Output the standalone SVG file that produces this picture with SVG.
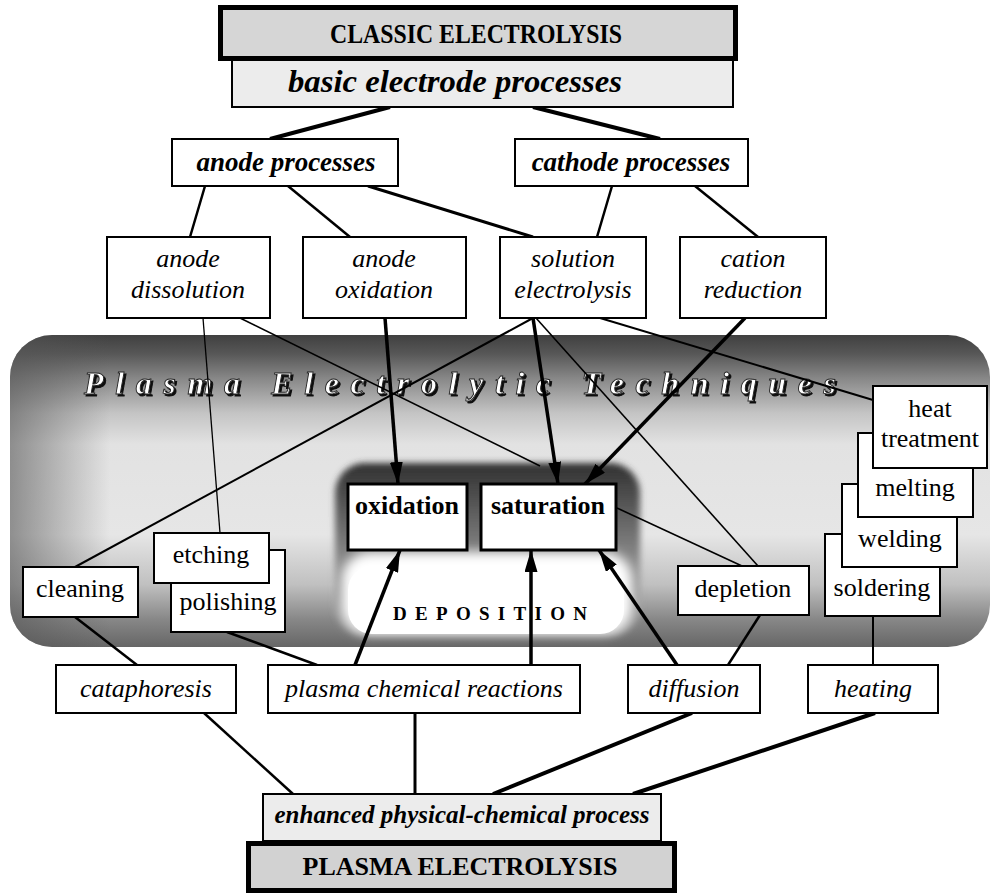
<svg xmlns="http://www.w3.org/2000/svg" width="994" height="893" viewBox="0 0 994 893">
<style>
.box{fill:#fff;stroke:#000;stroke-width:2}
.bx3{fill:#fff;stroke:#000;stroke-width:3}
.t{font-family:"Liberation Serif","Times New Roman",serif;fill:#000;text-anchor:middle}
.r{font-size:26px}
.i{font-size:26px;font-style:italic}
.bi{font-weight:bold;font-style:italic}
.b{font-weight:bold}
.ln{fill:none;stroke:#000;stroke-linecap:butt}
</style>
<defs>
<linearGradient id="band" x1="0" y1="335" x2="0" y2="647" gradientUnits="userSpaceOnUse">
<stop offset="0" stop-color="#404040"/>
<stop offset="0.06" stop-color="#575757"/>
<stop offset="0.14" stop-color="#888"/>
<stop offset="0.25" stop-color="#c4c4c4"/>
<stop offset="0.35" stop-color="#e2e2e2"/>
<stop offset="0.64" stop-color="#e6e6e6"/>
<stop offset="0.8" stop-color="#c0c0c0"/>
<stop offset="0.91" stop-color="#888"/>
<stop offset="1" stop-color="#666"/>
</linearGradient>
<linearGradient id="bandL" x1="10" y1="0" x2="110" y2="0" gradientUnits="userSpaceOnUse">
<stop offset="0" stop-color="#555" stop-opacity="0.6"/>
<stop offset="1" stop-color="#555" stop-opacity="0"/>
</linearGradient>
<linearGradient id="dep" x1="0" y1="463" x2="0" y2="635" gradientUnits="userSpaceOnUse">
<stop offset="0" stop-color="#303030"/>
<stop offset="0.2" stop-color="#505050"/>
<stop offset="0.6" stop-color="#909090"/>
<stop offset="1" stop-color="#a0a0a0"/>
</linearGradient>
<filter id="bl3" x="-10%" y="-10%" width="120%" height="120%"><feGaussianBlur stdDeviation="3"/></filter>
<filter id="bl6" x="-20%" y="-20%" width="140%" height="140%"><feGaussianBlur stdDeviation="6"/></filter>
<filter id="shadow" x="-5%" y="-30%" width="110%" height="160%">
<feOffset in="SourceAlpha" dx="2" dy="2" result="off"/>
<feFlood flood-color="#111"/>
<feComposite in2="off" operator="in" result="sh"/>
<feMerge><feMergeNode in="sh"/><feMergeNode in="SourceGraphic"/></feMerge>
</filter>
<marker id="arr" viewBox="0 0 22 13" refX="22" refY="6.5" markerWidth="22" markerHeight="13" orient="auto" markerUnits="userSpaceOnUse">
<path d="M0,0 L22,6.5 L0,13 z" fill="#000"/>
</marker>
</defs>

<g id="background">
<rect x="10" y="335" width="980" height="312" rx="42" fill="url(#band)"/>
<rect x="10" y="335" width="980" height="312" rx="42" fill="url(#bandL)"/>
<text x="84" y="394" class="t bi" style="font-size:32px;text-anchor:start;fill:#fff;stroke:#222;stroke-width:0.9" textLength="752" lengthAdjust="spacing" filter="url(#shadow)">Plasma Electrolytic Techniques</text>
<g id="deposition-area">
<rect x="335" y="463" width="305" height="172" rx="30" fill="url(#dep)" filter="url(#bl3)"/>
<rect x="342" y="552" width="290" height="82" rx="28" fill="#fff" filter="url(#bl6)"/>
<rect x="348" y="566" width="276" height="68" rx="24" fill="#fff"/>
<text x="490" y="620" class="t b" style="font-size:19px" textLength="194" lengthAdjust="spacing">DEPOSITION</text>
</g>
</g>

<g id="connectors">
<path class="ln" stroke-width="4" d="M390,107 L270,139"/>
<path class="ln" stroke-width="4" d="M533,107 L660,139"/>
<path class="ln" stroke-width="2.5" d="M205,186 L190,237"/>
<path class="ln" stroke-width="2.5" d="M288,186 L350,237"/>
<path class="ln" stroke-width="3" d="M368,186 L533,237"/>
<path class="ln" stroke-width="2.5" d="M612,186 L597,237"/>
<path class="ln" stroke-width="2.5" d="M695,186 L758,237"/>
<path class="ln" stroke-width="1.3" d="M203,318 L220,533"/>
<path class="ln" stroke-width="1.6" d="M240,318 L540,466"/>
<path class="ln" stroke-width="3.5" d="M385,318 L398,484" marker-end="url(#arr)"/>
<path class="ln" stroke-width="2" d="M533,318 L75,567"/>
<path class="ln" stroke-width="3.5" d="M533,318 L558,484" marker-end="url(#arr)"/>
<path class="ln" stroke-width="1.6" d="M536,318 L758,566"/>
<path class="ln" stroke-width="2" d="M600,318 L873,400"/>
<path class="ln" stroke-width="3.5" d="M745,318 L585,484" marker-end="url(#arr)"/>
<path class="ln" stroke-width="1.6" d="M617,508 L742,566"/>
<path class="ln" stroke-width="2.5" d="M75,617 L137,665"/>
<path class="ln" stroke-width="2.5" d="M227,632 L317,665"/>
<path class="ln" stroke-width="3.5" d="M355,665 L400,550" marker-end="url(#arr)"/>
<path class="ln" stroke-width="3.5" d="M531,665 L531,550" marker-end="url(#arr)"/>
<path class="ln" stroke-width="3.5" d="M677,665 L599,550" marker-end="url(#arr)"/>
<path class="ln" stroke-width="2.5" d="M728,665 L760,615"/>
<path class="ln" stroke-width="2" d="M873,665 L873,616"/>
<path class="ln" stroke-width="2.5" d="M204,713 L293,794"/>
<path class="ln" stroke-width="3" d="M415,713 L415,794"/>
<path class="ln" stroke-width="4" d="M692,713 L493,794"/>
<path class="ln" stroke-width="4" d="M875,713 L633,794"/>
</g>

<g id="classic-electrolysis">
<rect x="220.5" y="7.5" width="515" height="51" fill="#d6d6d6" stroke="#000" stroke-width="5"/>
<text x="476" y="43" class="t b" style="font-size:27px" textLength="292" lengthAdjust="spacingAndGlyphs">CLASSIC ELECTROLYSIS</text>
</g>
<g id="basic-electrode-processes">
<rect x="232" y="60" width="501" height="47" fill="#ececec" stroke="#000" stroke-width="2"/>
<text x="455" y="92" class="t bi" style="font-size:32px" textLength="334" lengthAdjust="spacingAndGlyphs">basic electrode processes</text>
</g>
<g id="anode-processes">
<rect class="box" x="172" y="139" width="226" height="47"/>
<text x="286" y="171" class="t bi" style="font-size:27px">anode processes</text>
</g>
<g id="cathode-processes">
<rect class="box" x="515" y="139" width="233" height="47"/>
<text x="631" y="171" class="t bi" style="font-size:27px">cathode processes</text>
</g>
<g id="anode-dissolution">
<rect class="box" x="107" y="237" width="163" height="81"/>
<text x="188" y="267" class="t i">anode</text>
<text x="188" y="298" class="t i">dissolution</text>
</g>
<g id="anode-oxidation">
<rect class="box" x="303" y="237" width="163" height="81"/>
<text x="384" y="267" class="t i">anode</text>
<text x="384" y="298" class="t i">oxidation</text>
</g>
<g id="solution-electrolysis">
<rect class="box" x="500" y="237" width="146" height="81"/>
<text x="573" y="267" class="t i">solution</text>
<text x="573" y="298" class="t i">electrolysis</text>
</g>
<g id="cation-reduction">
<rect class="box" x="680" y="237" width="146" height="81"/>
<text x="753" y="267" class="t i">cation</text>
<text x="753" y="298" class="t i">reduction</text>
</g>
<g id="oxidation">
<rect class="bx3" x="348" y="484" width="119" height="66"/>
<text x="407" y="514" class="t b" style="font-size:26px">oxidation</text>
</g>
<g id="saturation">
<rect class="bx3" x="481" y="484" width="135" height="66"/>
<text x="548" y="514" class="t b" style="font-size:26px">saturation</text>
</g>
<g id="cleaning">
<rect class="box" x="23" y="567" width="115" height="50"/>
<text x="80" y="597" class="t r">cleaning</text>
</g>
<g id="polishing">
<rect class="box" x="171" y="550" width="114" height="82"/>
<text x="228" y="610" class="t r">polishing</text>
</g>
<g id="etching">
<rect class="box" x="154" y="533" width="115" height="50"/>
<text x="211" y="563" class="t r">etching</text>
</g>
<g id="depletion">
<rect class="box" x="678" y="566" width="131" height="49"/>
<text x="743" y="597" class="t r">depletion</text>
</g>
<g id="soldering">
<rect class="box" x="825" y="534" width="115" height="82"/>
<text x="882" y="596" class="t r">soldering</text>
</g>
<g id="welding">
<rect class="box" x="842" y="484" width="115" height="83"/>
<text x="900" y="547" class="t r">welding</text>
</g>
<g id="melting">
<rect class="box" x="858" y="433" width="115" height="84"/>
<text x="915" y="496" class="t r">melting</text>
</g>
<g id="heat-treatment">
<rect class="box" x="873" y="386" width="114" height="82"/>
<text x="930" y="417" class="t r">heat</text>
<text x="930" y="447" class="t r">treatment</text>
</g>
<g id="cataphoresis">
<rect class="box" x="56" y="665" width="180" height="48"/>
<text x="146" y="697" class="t i">cataphoresis</text>
</g>
<g id="plasma-chemical-reactions">
<rect class="box" x="268" y="665" width="312" height="48"/>
<text x="424" y="697" class="t i">plasma chemical reactions</text>
</g>
<g id="diffusion">
<rect class="box" x="628" y="665" width="132" height="48"/>
<text x="694" y="697" class="t i">diffusion</text>
</g>
<g id="heating">
<rect class="box" x="808" y="665" width="130" height="48"/>
<text x="873" y="697" class="t i">heating</text>
</g>
<g id="enhanced-process">
<rect x="263" y="794" width="398" height="47" fill="#ececec" stroke="#000" stroke-width="2"/>
<text x="462" y="823" class="t bi" style="font-size:25px">enhanced physical-chemical process</text>
</g>
<g id="plasma-electrolysis">
<rect x="248.5" y="843.5" width="426" height="47" fill="#d2d2d2" stroke="#000" stroke-width="5"/>
<text x="460" y="875" class="t b" style="font-size:26px">PLASMA ELECTROLYSIS</text>
</g>
</svg>
